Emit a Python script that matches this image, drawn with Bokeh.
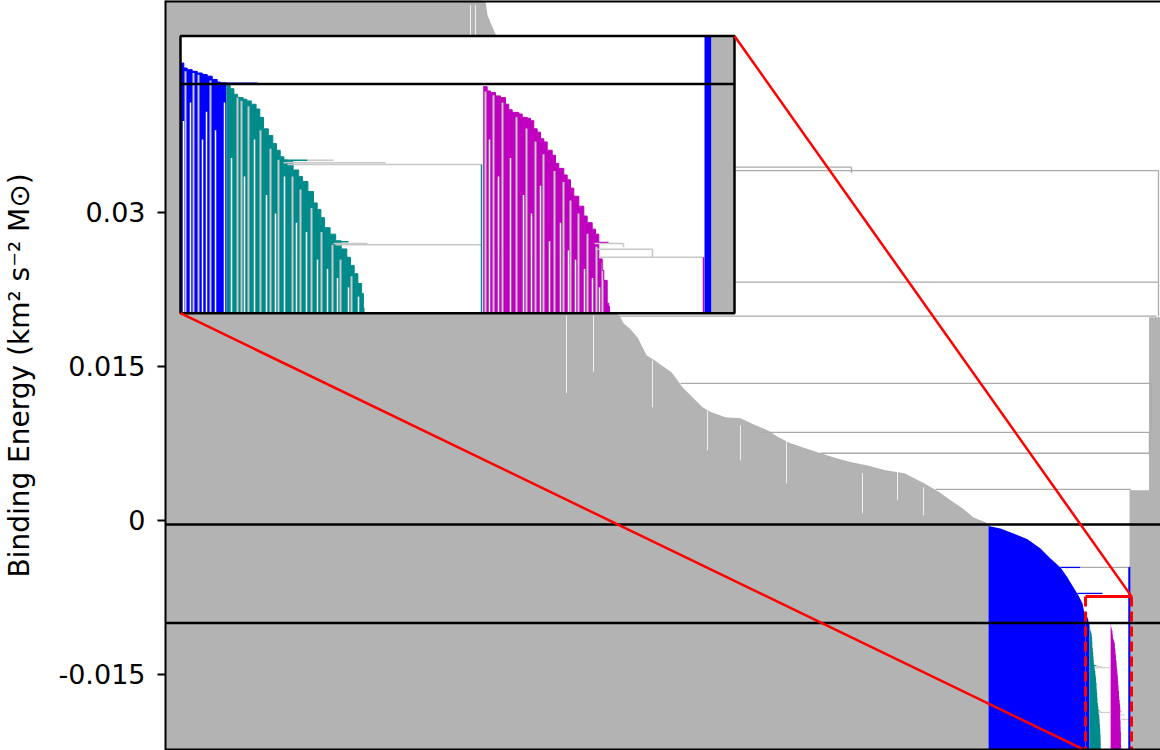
from bokeh.plotting import figure
from bokeh.models import Range1d, FixedTicker
from bokeh.embed import file_html
from bokeh.resources import INLINE

# ---------------- axis / text ----------------
Y_TICKS = [-0.015, 0.0, 0.015, 0.03]
Y_TICK_LABELS = ["-0.015", "0", "0.015", "0.03"]
Y_LABEL = "Binding Energy (km\u00b2 s\u207b\u00b2 M\u2299)"

X_MIN, X_MAX = 0, 995            # leaf-order axis (hidden)
Y_MIN, Y_MAX = -0.0224, 0.0506   # binding energy

# horizontal reference levels (black)
HLINES = [-0.0004, -0.010]

# ---------------- colours ----------------
GRAY = "#b3b3b3"
LGRAY = "#aaaaaa"
PALE = "#c8c8c8"
BLUE = "#0000ff"
TEAL = "#008b8b"
MAG = "#bf00bf"
RED = "#ff0000"

# ---------------- main (unbound) forest: envelope of leaf tops ----------------
gray_x = [0, 320, 322, 326, 330, 335, 365, 395, 425, 450, 454, 458, 464, 472, 477, 481,
          489, 496, 506, 512, 517, 527, 537, 546, 560, 575, 590, 602, 613, 625, 640, 655,
          671, 686, 701, 720, 739, 759, 774, 785, 797, 808, 820, 823]
gray_top = [0.060, 0.0505, 0.04919, 0.04821, 0.04734, 0.0448, 0.03896, 0.03117, 0.02435,
            0.02016, 0.01997, 0.01919, 0.01870, 0.01782, 0.01685, 0.01607, 0.01558,
            0.01510, 0.01442, 0.01364, 0.01295, 0.01198, 0.01101, 0.01052, 0.01003,
            0.00994, 0.00925, 0.00877, 0.00808, 0.00750, 0.00701, 0.00653, 0.00604,
            0.00565, 0.00536, 0.00487, 0.00458, 0.00360, 0.00273, 0.00195, 0.00117,
            0.00029, -0.00019, -0.00040]

# right-hand gray cluster
gray_r_x = [964, 983.5, 995]
gray_r_top = [0.00292, 0.01977, 0.01977]

# thin gaps inside the gray forest
white_x = [305, 310, 401, 428, 487, 542, 575, 621, 697, 732, 758]
white_top = [0.05016, 0.05016, 0.01997, 0.01997, 0.01558, 0.01071, 0.00925, 0.00779,
             0.00458, 0.00487, 0.00321]
white_bot = [0.04724, 0.04675, 0.01237, 0.01442, 0.01101, 0.00682, 0.00584, 0.00360,
             0.00068, 0.00195, 0.00049]

# merge branches of the main tree
conn_y = [0.03438, 0.03404, 0.02318, 0.01987, 0.01334, 0.00857, 0.00653, 0.00302,
          -0.00458, -0.00458, -0.00711]
conn_x0 = [440, 440, 440, 454, 515, 595, 655, 770, 895, 915, 912]
conn_x1 = [686, 993, 993, 991, 986, 984, 984, 965, 915, 963, 937]
conn_col = [LGRAY] * 8 + [BLUE, LGRAY, BLUE]
vert_x = [686, 993, 993, 986, 984, 965]
vert_y0 = [0.03438, 0.03404, 0.02318, 0.01334, 0.00857, 0.00302]
vert_y1 = [0.03380, 0.02318, 0.01987, 0.00857, 0.00653, 0.00292]

# bound structure (blue)
blue_x = [823, 835, 848, 862, 875, 885, 895, 902, 908, 913, 917, 919, 920]
blue_top = [-0.00056, -0.00078, -0.00127, -0.00185, -0.00273, -0.00370, -0.00458,
            -0.00555, -0.00653, -0.00731, -0.00808, -0.00906, -0.00945]

# ---------------- zoom window ----------------
ZX0, ZX1 = 920, 966          # zoomed part of the leaf axis
ZY_TOP = -0.0074             # top of the zoomed energy window (bottom = Y_MIN)
INSET_X0, INSET_X1 = 15, 569  # where the inset sits (main data units)
INSET_Y0, INSET_Y1 = 0.02016, 0.04714
U_W = 554                    # fine leaf-order units across the zoom window

# sub-structures in fine units u
zb_u = [0.5, 3.3, 6.7, 11.7, 16.7, 21.7, 26.7, 31.7, 36.7, 40, 46]
zb_top = [-0.00886, -0.00913, -0.00922, -0.00931, -0.00940, -0.00948, -0.00957, -0.00975,
          -0.00989, -0.00993, -0.00993]
zt_u = [46, 49.7, 53.4, 57.1, 62.7, 66.4, 70.8, 75.6, 79.3, 83, 87.8, 92.3, 96, 99.7,
        103.4, 107.1, 112.6, 118.2, 121.9, 127.4, 133, 136.7, 140.4, 144.1, 149.6, 155.2,
        160.7, 166.3, 170, 173.7, 177.4, 181.1, 182.9, 184]
zt_top = [-0.01002, -0.01025, -0.01055, -0.01073, -0.01082, -0.01091, -0.01109, -0.01135,
          -0.01180, -0.01242, -0.01278, -0.01322, -0.01358, -0.01393, -0.01411, -0.01420,
          -0.01465, -0.01500, -0.01527, -0.01581, -0.01643, -0.01679, -0.01723, -0.01777,
          -0.01812, -0.01848, -0.01892, -0.01937, -0.01981, -0.02026, -0.02079, -0.02133,
          -0.02213, -0.02213]
zm_u = [302.7, 306.7, 310, 315, 320, 325, 328.3, 331.7, 338.3, 341.7, 346.7, 350, 353.3,
        356.7, 360, 363.3, 366.7, 371.7, 375, 378.3, 383.3, 386.7, 390, 393.3, 398.3,
        403.3, 406.7, 411.7, 415, 418.3, 421.7, 423.3, 426.7, 428.3, 429.5]
zm_top = [-0.01014, -0.01037, -0.01046, -0.01064, -0.01073, -0.01109, -0.01139, -0.01153,
          -0.01162, -0.01180, -0.01185, -0.01198, -0.01242, -0.01260, -0.01296, -0.01313,
          -0.01358, -0.01385, -0.01429, -0.01456, -0.01492, -0.01518, -0.01563, -0.01607,
          -0.01661, -0.01714, -0.01750, -0.01785, -0.01812, -0.01946, -0.02008, -0.02062,
          -0.02186, -0.02204, -0.02204]

# unselected leaves inside the sub-structures
lg_u = [5, 13, 18, 30, 57, 61, 68, 80, 90, 98, 112, 120, 131, 141, 152, 160, 171,
        305, 313, 322, 336, 346, 355, 363, 374, 383, 390, 398, 407, 416, 422]
lg_top = [-0.0093, -0.0094, -0.0095, -0.0098, -0.0107, -0.0109, -0.0112, -0.0125, -0.0135,
          -0.0141, -0.0150, -0.0157, -0.0167, -0.0180, -0.0187, -0.0195, -0.0204,
          -0.0104, -0.0106, -0.0110, -0.0118, -0.0124, -0.0131, -0.0138, -0.0147,
          -0.0153, -0.0163, -0.0170, -0.0181, -0.0188, -0.0197]
wg_u = [3, 10, 22, 26, 35, 44, 51, 64, 74, 86, 95, 104, 116, 126, 137, 147, 157, 168, 178,
        309, 318, 330, 343, 351, 360, 369, 380, 388, 395, 404, 412, 419]
wg_top = [-0.0120, -0.0110, -0.0130, -0.0115, -0.0125, -0.0110, -0.0140, -0.0150, -0.0130,
          -0.0160, -0.0170, -0.0150, -0.0175, -0.0180, -0.0195, -0.0200, -0.0205, -0.0210,
          -0.0215, -0.0130, -0.0150, -0.0140, -0.0160, -0.0170, -0.0155, -0.0185, -0.0175,
          -0.0190, -0.0195, -0.0200, -0.0205, -0.0210]

# merges inside the zoom window
zc_e = [-0.00996, -0.01412, -0.01412, -0.01426, -0.01435, -0.01853, -0.01862, -0.01869,
        -0.01857, -0.01862, -0.01894, -0.01937]
zc_u0 = [46, 100, 127, 103, 107, 148, 153, 155, 413, 414, 415, 419]
zc_u1 = [77, 127, 153, 205, 301, 168, 187, 301, 428, 443, 472, 523]
zc_col = [BLUE, TEAL, PALE, PALE, PALE, TEAL, PALE, PALE, MAG, PALE, PALE, PALE]
zv_u = [301, 443, 472, 523]
zv_top = [-0.01435, -0.01862, -0.01894, -0.01937]
zv_bot = [Y_MIN, -0.01883, -0.01937, Y_MIN]
zv_col = [TEAL, PALE, PALE, MAG]

# the thin bound column and the gray cluster at the right of the window
zcol_u0, zcol_u1, zcol_top = 524, 531, -0.00458
zgray_u0 = 531

# ---------------- figure ----------------
p = figure(width=1160, height=750, x_range=Range1d(X_MIN, X_MAX),
           y_range=Range1d(Y_MIN, Y_MAX), output_backend="svg",
           toolbar_location=None, x_axis_location=None, y_axis_location="left")
p.grid.visible = False
p.outline_line_color = None
p.min_border_left = 165
p.min_border_right = 0
p.min_border_top = 0
p.min_border_bottom = 0
p.background_fill_color = "white"
p.border_fill_color = "white"

ya = p.yaxis[0]
ya.ticker = FixedTicker(ticks=Y_TICKS)
ya.major_label_overrides = {t: s for t, s in zip(Y_TICKS, Y_TICK_LABELS)}
ya.major_label_text_font = "DejaVu Sans"
ya.major_label_text_font_size = "27px"
ya.major_label_text_color = "black"
ya.major_tick_out = 8
ya.major_tick_in = 0
ya.major_tick_line_width = 2
ya.minor_tick_line_color = None
ya.axis_line_width = 2
ya.major_label_standoff = 12
ya.axis_label = Y_LABEL
ya.axis_label_text_font = "DejaVu Sans"
ya.axis_label_text_font_size = "28px"
ya.axis_label_text_font_style = "normal"
ya.axis_label_text_color = "black"
ya.axis_label_standoff = 19

# extra ranges for the zoomed sub-structures
k_z = (ZX1 - ZX0) / U_W
k_i = (INSET_X1 - INSET_X0) / U_W
s_i = (INSET_Y1 - INSET_Y0) / (ZY_TOP - Y_MIN)
p.extra_x_ranges = {
    "zmain": Range1d((X_MIN - ZX0) / k_z, (X_MAX - ZX0) / k_z),
    "inset": Range1d((X_MIN - INSET_X0) / k_i, (X_MAX - INSET_X0) / k_i),
}
p.extra_y_ranges = {
    "inset": Range1d(Y_MIN + (Y_MIN - INSET_Y0) / s_i, Y_MIN + (Y_MAX - INSET_Y0) / s_i),
}

# ---- main forest ----
p.varea(x=gray_x, y1=Y_MIN, y2=gray_top, fill_color=GRAY)
p.varea_step(x=gray_r_x, y1=Y_MIN, y2=gray_r_top, step_mode="after", fill_color=GRAY)
p.segment(x0=white_x, y0=white_bot, x1=white_x, y1=white_top, line_color="white",
          line_width=1, line_alpha=0.8)
p.segment(x0=conn_x0, y0=conn_y, x1=conn_x1, y1=conn_y, line_color=conn_col, line_width=1.3)
p.segment(x0=vert_x, y0=vert_y0, x1=vert_x, y1=vert_y1, line_color=LGRAY, line_width=1.3)
p.varea(x=blue_x, y1=Y_MIN, y2=blue_top, fill_color=BLUE)

# ---- zoomed sub-structures as seen in the main panel ----
for xs, ys, c in ((zb_u, zb_top, BLUE), (zt_u, zt_top, TEAL), (zm_u, zm_top, MAG)):
    p.varea_step(x=xs, y1=Y_MIN, y2=ys, step_mode="after", fill_color=c,
                 x_range_name="zmain")
p.segment(x0=zc_u0, y0=zc_e, x1=zc_u1, y1=zc_e, line_color=zc_col, line_width=1,
          x_range_name="zmain")
p.quad(left=[zcol_u0], right=[zcol_u1], bottom=[Y_MIN], top=[zcol_top], fill_color=BLUE,
       line_color=BLUE, line_width=1.5, x_range_name="zmain")

# black reference levels
p.segment(x0=[X_MIN] * len(HLINES), y0=HLINES, x1=[X_MAX] * len(HLINES), y1=HLINES,
          line_color="black", line_width=2.5)

# zoom rectangle
p.segment(x0=[ZX0], y0=[ZY_TOP], x1=[ZX1], y1=[ZY_TOP], line_color=RED, line_width=3)
p.segment(x0=[ZX0, ZX1], y0=[ZY_TOP, ZY_TOP], x1=[ZX0, ZX1], y1=[Y_MIN, Y_MIN],
          line_color=RED, line_width=3, line_dash="10 5")

# ---- inset ----
IR = dict(x_range_name="inset", y_range_name="inset")
p.quad(left=[0], right=[U_W], bottom=[Y_MIN], top=[ZY_TOP], fill_color="white",
       line_color=None, **IR)
for xs, ys, c in ((zb_u, zb_top, BLUE), (zt_u, zt_top, TEAL), (zm_u, zm_top, MAG)):
    p.varea_step(x=xs, y1=Y_MIN, y2=ys, step_mode="after", fill_color=c, **IR)
p.segment(x0=wg_u, y0=[Y_MIN] * len(wg_u), x1=wg_u, y1=wg_top, line_color="white",
          line_width=1.5, **IR)
p.segment(x0=lg_u, y0=[Y_MIN] * len(lg_u), x1=lg_u, y1=lg_top, line_color=PALE,
          line_width=2, **IR)
for xs, ys, c in ((zb_u, zb_top, BLUE), (zt_u, zt_top, TEAL), (zm_u, zm_top, MAG)):
    p.step(x=xs, y=ys, mode="after", line_color=c, line_width=1, **IR)
p.segment(x0=zc_u0, y0=zc_e, x1=zc_u1, y1=zc_e, line_color=zc_col, line_width=1.5, **IR)
p.segment(x0=zv_u, y0=zv_bot, x1=zv_u, y1=zv_top, line_color=zv_col, line_width=1.5, **IR)
p.quad(left=[zcol_u0], right=[zcol_u1], bottom=[Y_MIN], top=[ZY_TOP],
       fill_color=BLUE, line_color=None, **IR)
p.quad(left=[zgray_u0], right=[U_W], bottom=[Y_MIN], top=[ZY_TOP], fill_color=GRAY,
       line_color=None, **IR)
p.segment(x0=[0], y0=[HLINES[1]], x1=[U_W], y1=[HLINES[1]], line_color="black",
          line_width=2.5, **IR)
p.quad(left=[0], right=[U_W], bottom=[Y_MIN], top=[ZY_TOP], fill_color=None,
       line_color="black", line_width=2.5, **IR)

# connectors from inset to zoom rectangle
p.segment(x0=[INSET_X0, INSET_X1], y0=[INSET_Y0, INSET_Y1], x1=[ZX0, ZX1],
          y1=[Y_MIN, ZY_TOP], line_color=RED, line_width=2.5)

# top and bottom frame lines (half of each lies inside the frame)
p.segment(x0=[X_MIN, X_MIN], y0=[Y_MIN, Y_MAX], x1=[X_MAX, X_MAX], y1=[Y_MIN, Y_MAX],
          line_color="black", line_width=4)

open("out.html", "w").write(file_html(p, INLINE))
